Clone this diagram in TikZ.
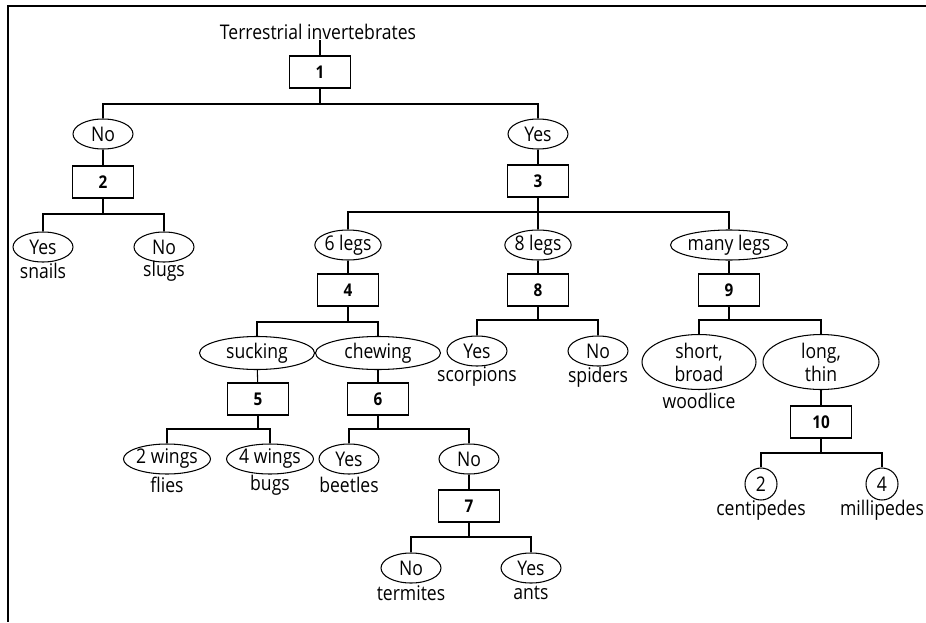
\documentclass[tikz,border=0pt]{standalone}
\usepackage{fontspec}
\setmainfont{Open Sans}[FakeStretch=0.87]
\usetikzlibrary{shapes.geometric}

\tikzset{
  qbox/.style={draw,rectangle,line width=0.8pt,minimum width=1.22cm,minimum height=0.64cm,inner sep=0pt,font=\bfseries},
  opt/.style={draw,ellipse,line width=0.6pt,minimum width=1.2cm,minimum height=0.6cm,inner xsep=0pt,inner ysep=0pt},
  num/.style={draw,circle,line width=0.6pt,minimum size=0.64cm,inner sep=0pt},
  res/.style={inner sep=0pt},
}

\newcommand{\fork}[4]{%
  \draw (#1.south) -- (#1.south |- 0,#4);
  \draw (#2.north) |- (#1.south |- 0,#4) -| (#3.north);
}

\begin{document}
\begin{tikzpicture}[x=0.02cm,y=-0.02cm,line width=0.6pt,font=\fontsize{11.5}{13}\selectfont]
  \useasboundingbox (0,0) rectangle (926,622);
  \draw[line width=0.8pt] (926,6) -- (8,6) -- (8,622);

  \node (root) [res] at (318,32) {Terrestrial invertebrates};
  \node (b1) [qbox] at (320,72) {1};
  \node (no1) [opt] at (103,134) {No};
  \node (yes1) [opt] at (538,134) {Yes};
  \node (b2) [qbox] at (103,182) {2};
  \node (b3) [qbox] at (538,181) {3};

  \node (yes2) [opt] at (43,247) {Yes};
  \node (no2) [opt] at (164,247) {No};
  \node (snails) [res] at (43,271) {snails};
  \node (slugs) [res] at (164,271) {slugs};

  \node (legs6) [opt] at (348,245) {6 legs};
  \node (legs8) [opt] at (538,245) {8 legs};
  \node (legsn) [opt] at (729,245) {many legs};
  \node (b4) [qbox] at (348,290) {4};
  \node (b8) [qbox] at (538,290) {8};
  \node (b9) [qbox] at (729,290) {9};

  \node (suck) [opt,minimum width=2.3cm,minimum height=0.66cm] at (257,353) {sucking};
  \node (chew) [opt,minimum width=2.5cm,minimum height=0.66cm] at (378,353) {chewing};
  \node (b5) [qbox] at (258,399) {5};
  \node (b6) [qbox] at (378,399) {6};

  \node (yes8) [opt] at (477,351) {Yes};
  \node (no8) [opt] at (598,351) {No};
  \node (scorp) [res] at (477,377) {scorpions};
  \node (spid) [res] at (598,377) {spiders};

  \node (short) [opt,align=center,minimum width=2.28cm,minimum height=1.1cm] at (699,362) {short,\\broad};
  \node (long) [opt,align=center,minimum width=2.32cm,minimum height=1.1cm] at (821,362) {long,\\thin};
  \node (wood) [res] at (699,401) {woodlice};
  \node (b10) [qbox] at (821,422) {10};
  \node (c2) [num] at (761,484) {2};
  \node (c4) [num] at (882,484) {4};
  \node (centi) [res] at (761,510) {centipedes};
  \node (milli) [res] at (882,510) {millipedes};

  \node (w2) [opt] at (167,459) {2 wings};
  \node (w4) [opt] at (270,459) {4 wings};
  \node (flies) [res] at (167,485) {flies};
  \node (bugs) [res] at (270,485) {bugs};

  \node (yes6) [opt] at (349,459) {Yes};
  \node (no6) [opt] at (469,459) {No};
  \node (beetles) [res] at (349,485) {beetles};
  \node (b7) [qbox] at (469,506) {7};
  \node (no7) [opt] at (411,568) {No};
  \node (yes7) [opt] at (531,568) {Yes};
  \node (termites) [res] at (411,593) {termites};
  \node (ants) [res] at (531,593) {ants};

  % stems
  \draw (root.south -| b1) -- (b1);
  \draw (no1) -- (b2);
  \draw (yes1) -- (b3);
  \draw (legs6) -- (b4);
  \draw (legs8) -- (b8);
  \draw (legsn) -- (b9);
  \draw (suck) -- (b5);
  \draw (chew) -- (b6);
  \draw (long) -- (b10);
  \draw (no6) -- (b7);

  % branches
  \fork{b1}{no1}{yes1}{104}
  \fork{b2}{yes2}{no2}{214}
  \fork{b3}{legs6}{legsn}{212}
  \draw (legs8.north) -- (legs8.north |- 0,212);
  \fork{b4}{suck}{chew}{322}
  \fork{b8}{yes8}{no8}{320}
  \fork{b9}{short}{long}{320}
  \fork{b10}{c2}{c4}{453}
  \fork{b5}{w2}{w4}{429}
  \fork{b6}{yes6}{no6}{429}
  \fork{b7}{no7}{yes7}{537}
\end{tikzpicture}
\end{document}
